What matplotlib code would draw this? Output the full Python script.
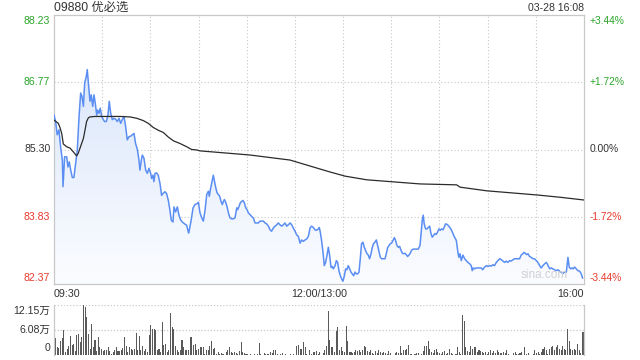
import numpy as np
import matplotlib
matplotlib.use("Agg")
import matplotlib.pyplot as plt
from matplotlib.colors import LinearSegmentedColormap

plt.rcParams['font.family'] = ['Liberation Sans', 'Noto Sans CJK SC', 'DejaVu Sans']

title = "09880 优必选"
stamp = "03-28 16:08"
prev_close = 85.30
price_lo, price_hi = 82.37, 88.23
price_ticks = [88.23, 86.77, 85.30, 83.83, 82.37]
pct_labels = ["+3.44%", "+1.72%", "0.00%", "-1.72%", "-3.44%"]
time_labels = ["09:30", "12:00/13:00", "16:00"]
vol_max = 12.15
vol_ticks = [12.15, 6.08, 0]
vol_tick_labels = ["12.15万", "6.08万", "0"]

# minutes after 09:30 (lunch break removed) and last price
minutes = [
    0, 1, 2, 3.1, 4.1, 5.2, 5.6, 6.6, 7.9, 8.7, 9.5, 10.4, 11.4, 12.4, 13.5, 14.5,
    15.6, 16.6, 17.4, 18.3, 19.1, 20.1, 20.7, 21.6, 22.4, 23.2, 24.1, 24.9, 25.7,
    26.6, 27.2, 28, 28.8, 29.7, 30.7, 31.5, 32.6, 33.6, 34.4, 35.3, 36.3, 37.3,
    38.4, 39.4, 40.5, 41.5, 42.5, 43.6, 44.6, 45.6, 46.7, 47.7, 48.8, 49.8, 50.8,
    51.9, 52.9, 53.5, 54.4, 55, 56, 57.1, 58.1, 59.1, 60.2, 60.8, 61.6, 62.2, 62.9,
    63.9, 64.9, 66, 67, 67.8, 69.1, 70.1, 71.2, 72.2, 73, 74.1, 74.7, 75.7, 76.8,
    77.8, 78.8, 79.9, 81.3, 82.6, 83.8,
    84.1, 85.3, 86.6, 87.8, 89.1, 89.9, 90.9, 92, 93, 94.1, 95.1, 96.1, 96.7, 97.4,
    98.2, 99.2, 99.9, 100.7, 101.5, 102.3, 103.2, 104, 104.8, 105.5, 106.1, 106.9,
    107.7, 108.6, 109.6, 110.6, 111.7, 112.7, 113.8, 114.4, 115.2, 116, 116.9,
    117.7, 118.5, 119.4, 120.2, 121, 122.1, 123.1, 124.1, 125.2, 126.2, 127.2,
    128.3, 129.3, 130.4, 131.4, 132.4, 133.5, 134.5, 135.5, 136.6, 137.6, 138.7,
    139.7, 140.7, 141.8, 142.8, 143.8, 144.9, 145.9, 147, 148, 149, 150.1, 151.1,
    152.1, 153.2, 154.2, 155.3, 156.3, 157.3, 158.4, 159.4, 160.4, 161.5,
    162.5, 163.5, 164.6, 165.2, 165.8, 166.6, 167.5, 168.3, 169.1, 170, 170.8,
    171.6, 172.5, 173.3, 173.9, 175, 175.8, 176.6, 177.4, 178.3, 179.1, 179.9,
    180.8, 181.6, 182.4, 183.2, 184.1, 184.9, 185.7, 186.6, 187.4, 188.2, 189.1,
    189.9, 190.7, 191.5, 192.4, 193.2, 194, 194.9, 195.7, 196.5, 197.4, 198.2,
    199, 199.8, 200.7, 201.5, 202.3, 203.2, 204, 205, 206.1, 206.9, 207.7, 208.6,
    209.4, 210.2, 211.1, 211.9, 212.7, 213.5, 214.4, 215.2, 216, 216.9, 217.7,
    218.5, 219.3, 220.2, 221, 221.8, 222.7, 223.7, 224.7, 225.8, 226.8, 227.9,
    228.7, 229.3, 229.9, 230.5, 231.4, 232.2, 233, 233.9, 234.7, 235.5, 236.4,
    237.2, 238, 238.8, 239.7, 240.5, 241.3, 242.2, 243, 243.8, 244.7,
    245.3, 246.3, 247.4, 248.4, 249.4, 250.5, 251.5, 252.1, 252.8, 253.6, 254.6,
    255.7, 256.7, 257.7, 258.8, 259.8, 260.4, 261.1, 261.9, 262.9, 264, 265, 266,
    266.9, 267.7, 268.5, 269.4, 270.2, 271.2, 272.3, 273.3, 274.3, 275.4, 276.4,
    277.5, 278.5, 279.5, 280.6, 281.6, 282.6, 283.7, 284.7, 285.8, 286.8, 287.8,
    288.9, 289.9, 290.9, 292, 292.6, 293.4, 294.3, 295.1, 296.1, 297.2, 298.2,
    299.2, 300.3, 301.3, 302.4, 303.4, 304.4, 305.5, 306.5, 307.1, 308, 308.8,
    309.6, 310.7, 311.7, 312.7, 313.8, 314.8, 315.8, 316.9, 317.9, 319, 320,
    320.8, 321.7, 322.5, 323.3, 324.1, 325.2, 326.2, 327.3, 328.3, 329.1,
]
prices = [
    86.05, 85.91, 85.62, 85.73, 85.36, 85.07, 84.49, 85.14, 85.14, 84.92, 85.03,
    84.85, 84.69, 84.69, 85.00, 85.29, 86.02, 86.53, 86.46, 86.24, 86.75, 86.89,
    87.04, 86.68, 86.35, 86.49, 86.24, 86.49, 86.31, 86.05, 86.16, 86.09, 86.20,
    86.02, 85.95, 85.91, 85.91, 86.05, 86.35, 86.09, 85.95, 85.98, 85.96, 85.91,
    85.98, 85.87, 85.95, 86.02, 85.80, 85.51, 85.58, 85.59, 85.62, 85.65, 85.43,
    85.30, 85.07, 84.85, 85.07, 85.18, 85.11, 84.85, 84.78, 84.89, 84.78, 84.67,
    84.74, 84.60, 84.78, 84.79, 84.74, 84.56, 84.30, 84.34, 84.38, 84.34, 84.19,
    83.97, 83.76, 83.72, 84.05, 83.94, 84.05, 83.87, 83.77, 83.72, 83.68, 83.65,
    83.48,
    83.52, 83.74, 84.03, 84.10, 84.12, 84.15, 83.92, 83.81, 83.74, 83.99, 84.32,
    84.39, 84.28, 84.43, 84.57, 84.74, 84.61, 84.47, 84.36, 84.32, 84.28, 84.17,
    84.10, 84.17, 84.21, 84.15, 84.06, 83.92, 83.81, 83.79, 83.79, 83.81, 84.03,
    83.99, 84.06, 84.14, 84.17, 84.19, 84.14, 84.03, 83.99, 83.92, 83.88, 83.84,
    83.81, 83.70, 83.70, 83.70, 83.74, 83.74, 83.74, 83.70, 83.68, 83.63, 83.55,
    83.52, 83.59, 83.63, 83.66, 83.70, 83.66, 83.63, 83.66, 83.70, 83.63, 83.66,
    83.70, 83.66, 83.59, 83.52, 83.44, 83.41, 83.26, 83.33, 83.30, 83.33, 83.35,
    83.41, 83.59, 83.63, 83.60,
    83.55, 83.54, 83.57, 83.60, 83.50, 83.32, 83.06, 82.77, 82.84, 83.00, 83.17,
    83.00, 82.73, 82.75, 82.70, 82.77, 82.88, 82.84, 82.66, 82.55, 82.48, 82.43,
    82.55, 82.70, 82.68, 82.77, 82.70, 82.63, 82.59, 82.55, 82.63, 82.59, 82.59,
    82.63, 82.92, 83.25, 83.28, 83.17, 83.10, 83.03, 83.00, 82.92, 83.03, 83.17,
    83.25, 83.28, 83.33, 83.21, 83.10, 82.95, 82.92, 82.92, 82.92, 83.03, 83.16,
    83.21, 83.25, 83.26, 83.32, 83.38, 83.32, 83.21, 83.17, 83.19, 83.11, 83.04,
    83.03, 83.04, 83.01, 82.97, 83.00, 83.04, 83.11, 83.13, 83.13, 83.13, 83.13,
    83.21, 83.54, 83.76, 83.87, 83.68, 83.57, 83.57, 83.60, 83.63, 83.47, 83.39,
    83.43, 83.47, 83.45, 83.50, 83.57, 83.54, 83.57, 83.55, 83.61, 83.68, 83.67,
    83.65, 83.61, 83.55, 83.47, 83.39, 83.32, 83.06, 82.95, 83.03, 82.88, 83.00,
    82.92, 82.88, 82.84, 82.81, 82.77, 82.66, 82.72, 82.70, 82.72, 82.72, 82.72,
    82.72, 82.68, 82.72, 82.75, 82.77, 82.75, 82.77, 82.76, 82.79, 82.77, 82.84,
    82.88, 82.92, 82.90, 82.87, 82.84, 82.87, 82.84, 82.88, 82.87, 82.90, 82.92,
    82.92, 82.92, 82.92, 83.00, 83.03, 83.06, 83.04, 83.01, 83.03, 82.97, 82.95,
    82.92, 82.92, 82.88, 82.84, 82.77, 82.72, 82.77, 82.81, 82.84, 82.81, 82.74,
    82.70, 82.72, 82.70, 82.68, 82.66, 82.68, 82.65, 82.63, 82.60, 82.63, 82.63,
    82.95, 82.74, 82.70, 82.72, 82.70, 82.74, 82.70, 82.66, 82.65, 82.59, 82.50,
]

# average price line
avg_minutes = [0, 2.7, 3.7, 4.8, 5.8, 7.9, 10, 12, 14.1, 15.1, 16.2, 17.2, 18.3,
               19.3, 20.3, 21.4, 22.4, 25.5, 32.8, 41.1, 47.3, 51.5, 55.6, 58.7,
               61.8, 64.9, 68.1, 71.2, 74.3, 78.5, 82.6, 85.7, 88.9, 90.9, 122,
               147, 159.4, 171.9, 181.2, 194.7, 227.9, 250.7, 252.8, 269.4, 300.6,
               315, 330]
avg_prices = [85.94, 85.87, 85.78, 85.65, 85.42, 85.36, 85.33, 85.25, 85.16, 85.22,
              85.33, 85.43, 85.54, 85.72, 85.91, 85.99, 86.01, 86.02, 86.02, 86.02,
              86.01, 85.98, 85.93, 85.87, 85.78, 85.72, 85.67, 85.57, 85.49, 85.43,
              85.36, 85.30, 85.29, 85.27, 85.18, 85.07, 84.94, 84.81, 84.72, 84.64,
              84.55, 84.53, 84.48, 84.40, 84.31, 84.26, 84.20]

# per-minute volume, in 万 shares
volume = [
    5.6, 4.1, 1.9, 1.6, 3.4, 4.1, 6.0, 0.7, 1.5, 2.3, 4.6, 2.5, 2.7, 0.9, 4.9, 5.2,
    3.1, 4.4, 12.15, 11.6, 9.3, 5.2, 1.5, 7.6, 1.9, 3.7, 0.9, 4.4, 1.9, 1.5, 0.9,
    1.1, 1.1, 1.9, 0.9, 0.25, 0.7, 1.1, 1.9, 0.9, 0.9, 1.1, 1.7, 4.4, 2.3, 0.7, 1.9,
    1.5, 1.1, 1.5, 5.3, 1.1, 4.5, 1.1, 2.1, 0.9, 1.5, 0.7, 4.8, 7.2, 6.4, 6.2, 6.0,
    1.1, 1.5, 0.7, 8.0, 2.5, 2.7, 0.7, 1.1, 10.1, 6.8, 6.2, 2.3, 1.2, 0.7, 1.1, 3.7,
    1.9, 1.1, 1.2, 1.1, 4.4, 4.4, 2.5, 2.7, 1.1, 1.5, 1.9, 1.9, 1.9, 0.25, 1.1, 1.2,
    2.3, 3.4, 1.5, 1.7, 0.25, 0.7, 0.25, 0.4, 0.25, 0.1, 0.7, 1.1, 1.9, 0.7, 0.5,
    0.7, 0.4, 0.25, 0.9, 3.1, 0.7, 0.4, 0.25, 0.25, 0.1, 0.25, 0.1, 0.25, 0.1, 0.25,
    2.9, 0.25, 0.1, 0.4, 0.25, 0.25, 0.25, 0.7, 0.4, 1.2, 1.1, 0.25, 0.1, 0.25, 0.4,
    0.1, 0.25, 0.1, 0.1, 0.25, 0.1, 0.25, 0.1, 2.3, 2.5, 1.5, 1.5, 3.2, 1.9, 0.25,
    0.1, 1.1, 0.25, 0.7, 0.7, 0.9, 0.25, 0.7, 0.1,
    0.4, 1.1, 2.3, 10.7, 3.7, 1.9, 1.9, 0.7, 5.8, 6.8, 1.1, 1.9, 0.9, 0.7, 7.0, 3.4,
    0.7, 0.7, 0.4, 0.7, 1.1, 0.9, 1.1, 0.7, 1.2, 2.3, 1.9, 0.9, 0.7, 1.2, 0.4, 0.25,
    0.9, 0.4, 1.2, 0.7, 0.4, 0.7, 0.4, 0.25, 0.9, 0.4, 0.1, 0.1, 0.4, 0.7, 0.4, 2.3,
    0.4, 1.1, 1.2, 1.5, 2.5, 0.25, 0.25, 0.1, 0.25, 0.5, 0.4, 0.1, 0.25, 0.9, 2.1,
    2.1, 3.5, 1.5, 0.7, 0.4, 1.1, 1.5, 0.7, 0.4, 0.25, 0.7, 0.9, 0.25, 0.4, 1.5, 0.4,
    0.25, 0.1, 0.25, 1.9, 0.7, 0.25, 9.7, 8.2, 1.9, 0.9, 0.7, 2.3, 1.5, 1.9, 1.9,
    0.7, 1.1, 0.9, 0.7, 0.4, 0.7, 0.25, 0.7, 1.1, 0.4, 0.9, 0.4, 1.1, 0.7, 0.4, 0.4,
    0.7, 0.4, 1.1, 0.25, 0.1, 0.1, 0.4, 0.7, 0.25, 0.25, 0.4, 0.7, 0.1, 1.9, 0.25,
    0.4, 0.1, 0.1, 0.25, 1.1, 0.4, 0.7, 0.25, 0.7, 1.5, 1.9, 1.1, 0.25, 1.5, 1.9,
    2.3, 1.2, 1.9, 2.5, 1.5, 1.2, 2.1, 1.5, 1.2, 6.2, 3.4, 1.5, 1.1, 1.5, 1.2, 2.7,
    1.2, 0.4, 5.6, 5.6,
]

GRID = "#c8c8c8"
GREEN = "#2aa52a"
RED = "#e8392c"
TXT = "#333333"

fig = plt.figure(figsize=(6.4, 3.6), dpi=100)
ax = fig.add_axes([54 / 640, 1 - 284 / 360, 530 / 640, 269 / 360])
axv = fig.add_axes([54 / 640, 1 - 355 / 360, 530 / 640, 50 / 360])

# price panel
ax.set_xlim(0, 330)
ax.set_ylim(price_lo, price_hi)
ax.set_xticks([])
ax.set_yticks([])
for s in ax.spines.values():
    s.set_color(GRID)
    s.set_linewidth(0.9)
for m in range(30, 330, 30):
    ax.axvline(m, color=GRID, lw=0.8, ls=(0, (1, 2)), zorder=0)
for p in price_ticks[1:-1]:
    ax.axhline(p, color=GRID, lw=0.8, ls=(0, (1, 2)), zorder=0)

cmap = LinearSegmentedColormap.from_list("fill", ["#fbfcff", "#d3e2fa"])
grad = np.linspace(0, 1, 256).reshape(-1, 1)
im = ax.imshow(grad, cmap=cmap, aspect="auto", origin="lower",
               extent=[0, 330, price_lo, price_hi], zorder=1)
poly = ax.fill_between(minutes, prices, price_lo, color="none", lw=0)
im.set_clip_path(poly.get_paths()[0], transform=ax.transData)

ax.plot(minutes, prices, color="#5b8ef2", lw=1.1, zorder=3)
ax.plot(avg_minutes, avg_prices, color="#2b2b2b", lw=0.9, zorder=3)

ytr = ax.get_yaxis_transform()
for i, (p, lab) in enumerate(zip(price_ticks, pct_labels)):
    col = GREEN if p > prev_close else (RED if p < prev_close else TXT)
    va = "top" if i == 0 else ("bottom" if i == len(price_ticks) - 1 else "center")
    off = -0.5 if i == 0 else (0.5 if i == len(price_ticks) - 1 else 0)
    ax.annotate(f"{p:.2f}", (-0.007, p), xycoords=ytr, xytext=(0, off),
                textcoords="offset points", ha="right", va=va, color=col, fontsize=7.6)
    ax.annotate(lab, (1.011, p), xycoords=ytr, xytext=(0, off),
                textcoords="offset points", ha="left", va=va, color=col, fontsize=7.4)

ax.text(0, 1.006, title, transform=ax.transAxes, ha="left", va="bottom",
        fontsize=8.8, color=TXT)
ax.text(1, 1.006, stamp, transform=ax.transAxes, ha="right", va="bottom",
        fontsize=7.6, color=TXT)
ax.text(0, -0.018, time_labels[0], transform=ax.transAxes, ha="left", va="top",
        fontsize=7.7, color=TXT)
ax.text(0.5, -0.018, time_labels[1], transform=ax.transAxes, ha="center", va="top",
        fontsize=7.7, color=TXT)
ax.text(1, -0.018, time_labels[2], transform=ax.transAxes, ha="right", va="top",
        fontsize=7.7, color=TXT)
ax.text(0.97, 0.012, "sina.com", transform=ax.transAxes, ha="right", va="bottom",
        fontsize=8.5, color="#d0d0d0", zorder=4)

# volume panel
vol_x = np.linspace(0, 330, len(volume))
axv.bar(vol_x, volume, width=0.65, color="#5a5a5a", linewidth=0)
axv.set_xlim(0, 330)
axv.set_ylim(0, vol_max)
axv.set_xticks([])
axv.set_yticks([])
for k in ["left", "right"]:
    axv.spines[k].set_color(GRID)
    axv.spines[k].set_linewidth(0.9)
axv.spines["bottom"].set_visible(False)
axv.spines["top"].set_visible(False)
for v in vol_ticks[:-1]:
    axv.axhline(v, color=GRID, lw=0.9, ls=(0, (1, 1.5)), zorder=0)

vtr = axv.get_yaxis_transform()
for i, (v, lab) in enumerate(zip(vol_ticks, vol_tick_labels)):
    va = "top" if i == 0 else ("bottom" if i == len(vol_ticks) - 1 else "center")
    off = -0.5 if i == 0 else (1.5 if i == len(vol_ticks) - 1 else 0)
    axv.annotate(lab, (-0.007, v), xycoords=vtr, xytext=(0, off),
                 textcoords="offset points", ha="right", va=va, color=TXT, fontsize=7.6)

fig.savefig("out.png", dpi=100)
